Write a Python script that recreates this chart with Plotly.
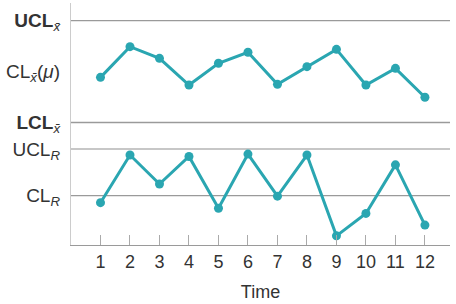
import plotly.graph_objects as go

time = list(range(1, 13))
xbar_values = [-0.34, 1.47, 0.78, -0.79, 0.49, 1.14, -0.75, 0.29, 1.31, -0.79, 0.19, -1.51]
r_values = [0.85, 1.87, 1.25, 1.84, 0.73, 1.89, 0.99, 1.87, 0.14, 0.62, 1.66, 0.37]

xbar_limits = [3, 0, -3]
xbar_labels = ["<b>UCL</b><sub><i>x̄</i></sub>", "CL<sub><i>x̄</i></sub>(<i>μ</i>)", "<b>LCL</b><sub><i>x̄</i></sub>"]
r_limits = [2, 1]
r_labels = ["UCL<sub><i>R</i></sub>", "CL<sub><i>R</i></sub>"]

teal = "#2aa6b1"
font = "Liberation Sans, Arial, sans-serif"

fig = go.Figure()
fig.add_trace(go.Scatter(x=time, y=xbar_values, xaxis="x", yaxis="y",
                         mode="lines+markers", line=dict(color=teal, width=3),
                         marker=dict(color=teal, size=9)))
fig.add_trace(go.Scatter(x=time, y=r_values, xaxis="x", yaxis="y2",
                         mode="lines+markers", line=dict(color=teal, width=3),
                         marker=dict(color=teal, size=9)))

shapes = []
for v, c in [(3, "#9a9a9a"), (-3, "#9a9a9a")]:
    shapes.append(dict(type="line", xref="paper", x0=0, x1=1, yref="y", y0=v, y1=v,
                       line=dict(color=c, width=1.3), layer="below"))
for v, c in [(2, "#b5b5b5"), (1, "#9a9a9a")]:
    shapes.append(dict(type="line", xref="paper", x0=0, x1=1, yref="y2", y0=v, y1=v,
                       line=dict(color=c, width=1.3), layer="below"))

split = (245 - 136) / 242

fig.update_layout(
    width=456, height=304,
    margin=dict(l=71, r=6, t=3, b=59),
    paper_bgcolor="white", plot_bgcolor="white",
    showlegend=False,
    font=dict(family=font, color="#333333", size=18),
    shapes=shapes,
    xaxis=dict(domain=[0, 1], anchor="y2", range=[0, 12.85],
               tickvals=time, ticktext=[str(t) for t in time],
               ticks="inside", ticklen=10, tickcolor="#aaaaaa", tickwidth=1,
               showline=True, linecolor="#9a9a9a", linewidth=1.3,
               showgrid=False, zeroline=False,
               tickfont=dict(size=18, color="#333333"),
               title=dict(text="Time", font=dict(size=18, color="#333333"), standoff=14)),
    yaxis=dict(domain=[split, 1], anchor="x", range=[-3.795, 4.042],
               tickvals=xbar_limits, ticktext=xbar_labels,
               showline=True, linecolor="#cccccc", linewidth=1.3,
               showgrid=False, zeroline=False, ticks="", ticklabelstandoff=6,
               tickfont=dict(size=19, color="#333333")),
    yaxis2=dict(domain=[0, split], anchor="x", range=[-0.056, 2.278],
                tickvals=r_limits, ticktext=r_labels,
                showline=True, linecolor="#cccccc", linewidth=1.3,
                showgrid=False, zeroline=False, ticks="", ticklabelstandoff=6,
                tickfont=dict(size=19, color="#333333")),
)

fig.write_html("out.html")
